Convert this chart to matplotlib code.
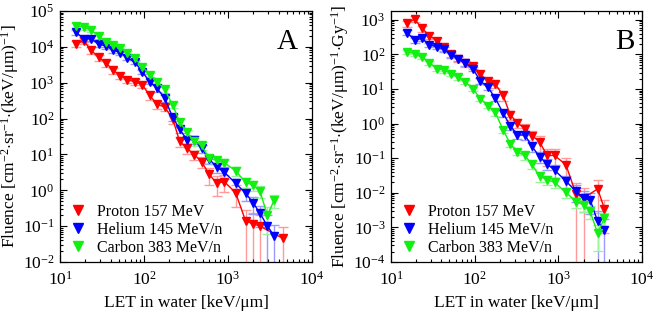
import numpy as np
import matplotlib
matplotlib.use('Agg')
import matplotlib.pyplot as plt
from matplotlib.lines import Line2D
from matplotlib.ticker import LogLocator, NullFormatter

plt.rcParams['font.family'] = ['Liberation Serif', 'DejaVu Serif']
plt.rcParams['mathtext.fontset'] = 'custom'
plt.rcParams['mathtext.rm'] = 'Liberation Serif'
plt.rcParams['mathtext.it'] = 'Liberation Serif:italic'
plt.rcParams['mathtext.bf'] = 'Liberation Serif:bold'

nan = np.nan

# LET bin centres [keV/um], shared by all spectra
let_bins = [15.5, 19.1, 23.4, 28.8, 35.5, 43.2, 52.5, 63.1, 77.6, 95.5,
            117, 143, 176, 219, 266, 324, 398, 484, 596, 733,
            902, 1230, 1620, 2000, 2400, 2950, 3550, 4470]

# panel A: fluence per LET
proton_A = [1.2e4, 1.5e4, 8.1e3, 5.1e3, 3.5e3, 2.2e3, 1.55e3, 1.2e3, 1.07e3, 870,
            440, 250, 210, 100, 23, 15, 9.7, 6.3, 2.8, 1.57,
            1.74, 0.86, 0.14, 0.115, 0.1, nan, nan, 0.046]
helium_A = [2.6e4, 1.65e4, 1.7e4, 1.2e4, 1.05e4, 8.1e3, 6.9e3, 5.0e3, 3.8e3, 2.0e3,
            1.07e3, 700, 370, 110, 50, 26, 26, 14.8, 7.5, 4.4,
            3.2, 1.57, 0.83, 0.44, 0.23, 0.1, 0.053, nan]
carbon_A = [3.9e4, 3.5e4, 3.0e4, 2.0e4, 1.35e4, 1.1e4, 9.1e3, 6.7e3, 4.8e3, 2.8e3,
            1.66e3, 1.07e3, 650, 240, 81, 41, 23, 18, 7.8, 6.8,
            5.9, 3.5, 1.66, 1.4, 0.95, 0.2, 0.54, nan]
# relative errors (>=1 means the bar reaches zero)
proton_A_err = [0.2, 0.2, 0.2, 0.2, 0.2, 0.2, 0.2, 0.2, 0.2, 0.2,
                0.25, 0.25, 0.25, 0.3, 0.3, 0.3, 0.3, 0.35, 0.5, 0.55,
                0.5, 0.6, 1, 1, 1, nan, nan, 1]
helium_A_err = [0.15, 0.15, 0.15, 0.15, 0.15, 0.15, 0.15, 0.15, 0.15, 0.15,
                0.15, 0.2, 0.2, 0.2, 0.2, 0.25, 0.25, 0.25, 0.3, 0.3,
                0.35, 0.35, 0.4, 0.5, 0.6, 1, 1, nan]
carbon_A_err = [0.15, 0.15, 0.15, 0.15, 0.15, 0.15, 0.15, 0.15, 0.15, 0.15,
                0.15, 0.15, 0.2, 0.2, 0.2, 0.2, 0.25, 0.25, 0.25, 0.25,
                0.3, 0.3, 0.3, 0.3, 0.35, 0.7, 0.4, nan]

# panel B: fluence per LET per dose
proton_B = [790, 1050, 570, 350, 250, 160, 105, 75, 55, 47,
            27, 17, 14, 6.5, 1.8, 1.05, 0.72, 0.45, 0.3, 0.12,
            0.12, 0.065, 0.0095, 0.007, nan, 0.013, 0.0035, nan]
helium_B = [430, 260, 290, 190, 165, 140, 95, 75, 55, 38,
            17, 11.5, 5.5, 2.0, 0.87, 0.47, 0.47, 0.22, 0.11, 0.068,
            0.045, 0.022, 0.011, 0.007, 0.0063, 0.0015, 0.00085, nan]
carbon_B = [120, 105, 85, 57, 39, 35, 28, 22, 16, 10,
            5.3, 3.3, 2.1, 0.66, 0.26, 0.15, 0.12, 0.066, 0.03, 0.024,
            0.02, 0.0103, 0.0056, 0.0045, 0.0029, 0.00068, 0.00185, nan]
proton_B_err = [0.2, 0.2, 0.2, 0.2, 0.2, 0.2, 0.2, 0.2, 0.2, 0.2,
                0.25, 0.25, 0.25, 0.3, 0.3, 0.3, 0.35, 0.4, 0.5, 0.5,
                0.5, 0.6, 1, 1, nan, 0.8, 0.8, nan]
helium_B_err = [0.15, 0.15, 0.15, 0.15, 0.15, 0.15, 0.15, 0.15, 0.15, 0.15,
                0.2, 0.2, 0.2, 0.2, 0.25, 0.25, 0.3, 0.3, 0.35, 0.35,
                0.4, 0.4, 0.5, 0.6, 0.6, 1, 1, nan]
carbon_B_err = [0.15, 0.15, 0.15, 0.15, 0.15, 0.15, 0.15, 0.15, 0.15, 0.15,
                0.15, 0.15, 0.2, 0.2, 0.2, 0.2, 0.25, 0.25, 0.3, 0.3,
                0.3, 0.3, 0.35, 0.4, 0.4, 0.7, 0.4, nan]

labels = ['Proton 157 MeV', 'Helium 145 MeV/n', 'Carbon 383 MeV/n']
colors = ['#ff0000', '#0000ff', '#11f011']
light = ['#ff9a9a', '#9a9aff', '#9af59a']


def draw_panel(ax, series, errs, ylim, ylabel, letter, letter_x, ylab_x):
    x = np.array(let_bins)
    for vals, err, c, lc in zip(series, errs, colors, light):
        y = np.array(vals)
        e = np.array(err)
        m = ~np.isnan(y)
        lo = y * np.minimum(e, 0.9995)
        hi = y * e
        ax.errorbar(x[m], y[m], yerr=[lo[m], hi[m]], fmt='none', ecolor=lc,
                    elinewidth=1, capsize=3.5, capthick=1, zorder=1)
    for vals, c in zip(series, colors):
        y = np.array(vals)
        m = ~np.isnan(y)
        ax.plot(x[m], y[m], color=c, lw=1, marker='v', ms=6, mec=c, zorder=2)

    ax.set_xscale('log')
    ax.set_yscale('log')
    ax.set_xlim(10, 1e4)
    ax.set_ylim(*ylim)
    ax.xaxis.set_major_locator(LogLocator(base=10, numticks=10))
    ax.yaxis.set_major_locator(LogLocator(base=10, numticks=15))
    ax.xaxis.set_minor_locator(LogLocator(base=10, subs=np.arange(2, 10), numticks=40))
    ax.yaxis.set_minor_locator(LogLocator(base=10, subs=np.arange(2, 10), numticks=40))
    ax.xaxis.set_minor_formatter(NullFormatter())
    ax.yaxis.set_minor_formatter(NullFormatter())
    ax.tick_params(which='both', direction='in', top=True, right=True,
                   labelsize=12.5, width=0.8)
    ax.tick_params(which='major', length=5)
    ax.tick_params(axis='x', which='major', pad=6)
    ax.tick_params(axis='y', which='major', pad=4)
    ax.tick_params(which='minor', length=2.5)
    for s in ax.spines.values():
        s.set_linewidth(0.9)
    ax.set_xlabel('LET in water [keV/μm]', fontsize=12.5, labelpad=5)
    ax.set_ylabel(ylabel, fontsize=12.5)
    ax.yaxis.set_label_coords(ylab_x, 0.5)
    ax.text(letter_x, 0.875, letter, transform=ax.transAxes, fontsize=21,
            ha='center', va='center')

    handles = [Line2D([], [], color=c, marker='v', ls='none', ms=7) for c in colors]
    ax.legend(handles, labels, loc='lower left', frameon=False, fontsize=11.5,
              handlelength=0.8, handletextpad=0.8, labelspacing=0.12,
              borderaxespad=0.0, bbox_to_anchor=(0.02, 0.0))


fig = plt.figure(figsize=(6.57, 3.16), dpi=100)
axA = fig.add_axes([60 / 657, 54 / 316, 252 / 657, 251 / 316])
axB = fig.add_axes([391 / 657, 54 / 316, 251 / 657, 251 / 316])

draw_panel(axA, [proton_A, helium_A, carbon_A],
           [proton_A_err, helium_A_err, carbon_A_err], (1e-2, 1e5),
           r'Fluence [cm$^{-2}$$\cdot$sr$^{-1}$$\cdot$(keV/μm)$^{-1}$]', 'A', 0.9, -0.155)
draw_panel(axB, [proton_B, helium_B, carbon_B],
           [proton_B_err, helium_B_err, carbon_B_err], (1e-4, 1.8e3),
           r'Fluence [cm$^{-2}$$\cdot$sr$^{-1}$$\cdot$(keV/μm)$^{-1}$$\cdot$Gy$^{-1}$]', 'B', 0.932, -0.16)

fig.savefig('out.png', dpi=100)
